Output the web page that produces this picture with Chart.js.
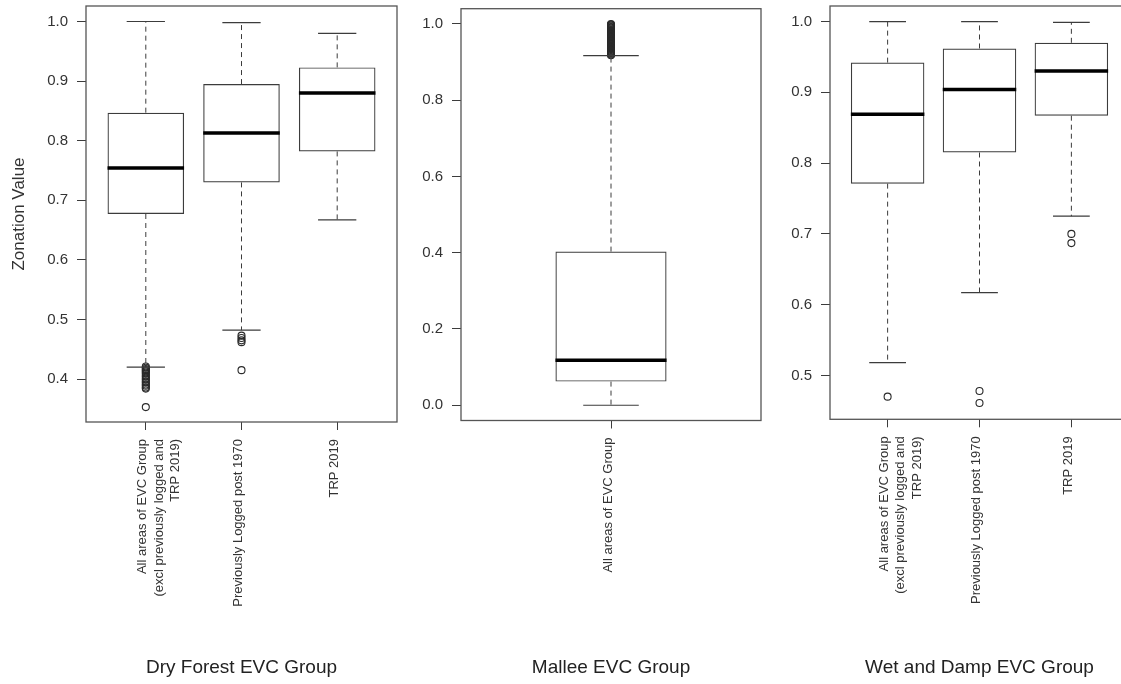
<!DOCTYPE html>
<html>
<head>
<meta charset="utf-8">
<script src="https://cdn.jsdelivr.net/npm/chart.js@4.4.1/dist/chart.umd.min.js"></script>
<style>
  html, body { margin: 0; padding: 0; background: #fff; overflow: hidden; }
  body { width: 1121px; height: 684px; position: relative; }
  canvas { position: absolute; top: 0; }
</style>
</head>
<body>
<canvas id="dry" width="420" height="684" style="left:0px"></canvas>
<canvas id="mallee" width="380" height="684" style="left:400px"></canvas>
<canvas id="wet" width="370" height="684" style="left:770px"></canvas>
<script>
// Dry Forest EVC Group
const dryLabels = [
    ["All areas of EVC Group", "(excl previously logged and", "TRP 2019)"],
    "Previously Logged post 1970",
    "TRP 2019"
];
const dryLow    = [0.420, 0.482, 0.667];
const dryQ1     = [0.677, 0.730, 0.782];
const dryMedian = [0.754, 0.813, 0.880];
const dryQ3     = [0.847, 0.895, 0.923];
const dryHigh   = [1.000, 0.998, 0.980];
const dryOutliers = [
    [0.421, 0.419, 0.417, 0.415, 0.413, 0.411, 0.409, 0.406, 0.404, 0.401, 0.399, 0.396,
     0.394, 0.391, 0.389, 0.386, 0.384, 0.353],
    [0.473, 0.469, 0.465, 0.462, 0.415],
    []
];

// Mallee EVC Group
const malleeLabels = ["All areas of EVC Group"];
const malleeLow    = [0.000];
const malleeQ1     = [0.062];
const malleeMedian = [0.118];
const malleeQ3     = [0.403];
const malleeHigh   = [0.917];
const malleeOutliers = [
    [0.918, 0.920, 0.922, 0.924, 0.926, 0.928, 0.930, 0.932, 0.934, 0.936, 0.938, 0.940,
     0.942, 0.944, 0.946, 0.948, 0.950, 0.952, 0.954, 0.956, 0.958, 0.960, 0.962, 0.964,
     0.966, 0.968, 0.970, 0.972, 0.974, 0.976, 0.978, 0.980, 0.982, 0.984, 0.986, 0.988,
     0.990, 0.992, 0.994, 0.996, 0.998, 1.000]
];

// Wet and Damp EVC Group
const wetLabels = dryLabels;
const wetLow    = [0.518, 0.617, 0.725];
const wetQ1     = [0.771, 0.815, 0.867];
const wetMedian = [0.869, 0.904, 0.930];
const wetQ3     = [0.942, 0.962, 0.970];
const wetHigh   = [1.000, 1.000, 0.999];
const wetOutliers = [[0.470], [0.478, 0.461], [0.700, 0.687]];

const FONT = "'Liberation Sans', Arial, sans-serif";
const TEXT = "#333333";
const LINE = "#3c3c3c";

// Box around the plotting region, like R's box()
const framePlugin = {
    id: "frame",
    beforeDatasetsDraw(chart) {
        const { ctx, chartArea: a } = chart;
        ctx.save();
        ctx.strokeStyle = "#555555";
        ctx.lineWidth = 1.3;
        ctx.strokeRect(a.left, a.top, a.right - a.left, a.bottom - a.top);
        ctx.restore();
    }
};

function buildPanel(id, p) {
    const boxes = [], medians = [], whiskers = [], caps = [], points = [];
    p.labels.forEach((_, i) => {
        const x = i + 1;
        boxes.push({ x: x, y: [p.q1[i], p.q3[i]] });
        medians.push({ x: x - 0.4, y: p.median[i] }, { x: x + 0.4, y: p.median[i] }, { x: x + 0.5, y: null });
        whiskers.push({ x: x, y: p.q3[i] }, { x: x, y: p.high[i] }, { x: x, y: null },
                      { x: x, y: p.q1[i] }, { x: x, y: p.low[i] }, { x: x, y: null });
        caps.push({ x: x - 0.2, y: p.high[i] }, { x: x + 0.2, y: p.high[i] }, { x: x, y: null },
                  { x: x - 0.2, y: p.low[i] }, { x: x + 0.2, y: p.low[i] }, { x: x, y: null });
        p.outliers[i].forEach(v => points.push({ x: x, y: v }));
    });

    const datasets = [
        { type: "line", data: medians, borderColor: "#000", borderWidth: 3.5, pointRadius: 0, borderCapStyle: "butt" },
        { type: "bar", data: boxes, backgroundColor: "rgba(0,0,0,0)", borderColor: LINE, borderWidth: 1.2,
          borderSkipped: false, categoryPercentage: 1, barPercentage: 0.8 },
        { type: "line", data: whiskers, borderColor: LINE, borderWidth: 1, borderDash: [5, 4], pointRadius: 0 },
        { type: "line", data: caps, borderColor: LINE, borderWidth: 1.2, pointRadius: 0 },
        { type: "scatter", data: points, pointStyle: "circle", pointRadius: 3.5, borderWidth: 1.1,
          borderColor: "#2a2a2a", backgroundColor: "rgba(0,0,0,0)" }
    ];

    return new Chart(document.getElementById(id), {
        type: "bar",
        data: { datasets: datasets },
        plugins: [framePlugin],
        options: {
            responsive: false,
            animation: false,
            events: [],
            layout: { padding: { left: 0, right: p.padRight, top: p.padTop, bottom: 5 } },
            plugins: {
                legend: { display: false },
                tooltip: { enabled: false },
                title: {
                    display: true,
                    text: p.title,
                    position: "bottom",
                    fullSize: false,
                    color: "#222",
                    font: { family: FONT, size: 19, weight: "normal", lineHeight: 1.2 },
                    padding: { top: 0, bottom: 0 }
                }
            },
            scales: {
                x: {
                    type: "linear",
                    min: p.xMin,
                    max: p.xMax,
                    offset: false,
                    afterFit: s => { s.height = p.xAxisHeight; },
                    border: { display: false },
                    grid: {
                        offset: false,
                        drawOnChartArea: false,
                        tickLength: 8,
                        tickColor: c => (p.labels[c.tick.value - 1] ? LINE : "rgba(0,0,0,0)")
                    },
                    ticks: {
                        stepSize: 1,
                        includeBounds: false,
                        autoSkip: false,
                        minRotation: 90,
                        maxRotation: 90,
                        padding: 9,
                        labelOffset: -3,
                        color: TEXT,
                        font: { family: FONT, size: 13, lineHeight: 1.25 },
                        callback: v => p.labels[v - 1] || ""
                    }
                },
                y: {
                    min: p.yMin,
                    max: p.yMax,
                    afterFit: s => {
                        s.width = p.yAxisWidth;
                        s.paddingTop = 0;
                        s.paddingBottom = 0;
                    },
                    border: { display: false },
                    grid: { drawOnChartArea: false, tickLength: 9, tickColor: LINE },
                    ticks: {
                        stepSize: p.yStep,
                        includeBounds: false,
                        padding: 9,
                        color: TEXT,
                        font: { family: FONT, size: 15 },
                        callback: v => v.toFixed(1)
                    },
                    title: {
                        display: !!p.yTitle,
                        text: p.yTitle || "",
                        color: TEXT,
                        font: { family: FONT, size: 17 },
                        padding: { top: 9, bottom: 0 }
                    }
                }
            }
        }
    });
}

buildPanel("dry", {
    labels: dryLabels, low: dryLow, q1: dryQ1, median: dryMedian, q3: dryQ3, high: dryHigh,
    outliers: dryOutliers, title: "Dry Forest EVC Group", yTitle: "Zonation Value",
    xMin: 0.375, xMax: 3.625, yMin: 0.328, yMax: 1.026, yStep: 0.1,
    yAxisWidth: 86, padRight: 23, padTop: 6, xAxisHeight: 234.2
});

buildPanel("mallee", {
    labels: malleeLabels, low: malleeLow, q1: malleeQ1, median: malleeMedian, q3: malleeQ3, high: malleeHigh,
    outliers: malleeOutliers, title: "Mallee EVC Group",
    xMin: -0.08, xMax: 2.08, yMin: -0.04, yMax: 1.04, yStep: 0.2,
    yAxisWidth: 61, padRight: 19, padTop: 8.7, xAxisHeight: 235.7
});

buildPanel("wet", {
    labels: wetLabels, low: wetLow, q1: wetQ1, median: wetMedian, q3: wetQ3, high: wetHigh,
    outliers: wetOutliers, title: "Wet and Damp EVC Group",
    xMin: 0.373, xMax: 3.627, yMin: 0.438, yMax: 1.022, yStep: 0.1,
    yAxisWidth: 60, padRight: 11, padTop: 6, xAxisHeight: 236.9
});
</script>
</body>
</html>
